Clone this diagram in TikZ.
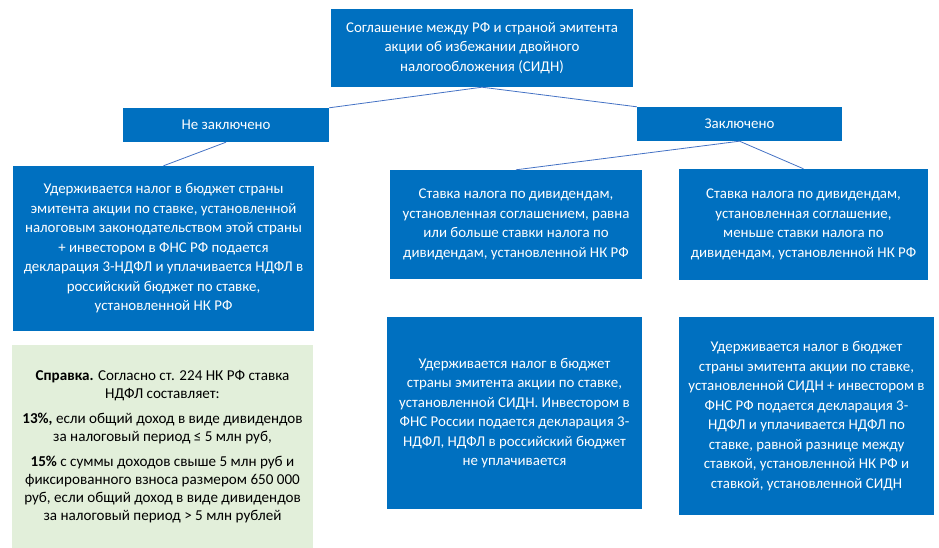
\documentclass[tikz,border=0pt]{standalone}
\usepackage{fontspec}
\setmainfont{Carlito}
\usepackage{tikz}
\usetikzlibrary{positioning,calc}

\definecolor{boxblue}{HTML}{0070C0}
\definecolor{linkblue}{HTML}{4472C4}
\definecolor{notegreen}{HTML}{E2EFDA}

\tikzset{
  bluebox/.style={fill=boxblue, text=white, align=center, inner sep=0pt,
    font=\fontsize{14.9}{19.5}\selectfont},
  notebox/.style={fill=notegreen, text=black, align=center, inner sep=0pt,
    font=\fontsize{15.1}{18}\selectfont},
  link/.style={draw=linkblue, line width=0.8pt}
}

\begin{document}
\begin{tikzpicture}[x=1pt, y=-1pt]
        \useasboundingbox (0,0) rectangle (939,548);

        % Top: agreement
        \node[bluebox, minimum width=302, minimum height=78] (sidn) at (482,48)
          {Соглашение между РФ и страной эмитента\\акции об избежании двойного\\налогообложения (СИДН)};

        % Second level
        \node[bluebox, minimum width=206, minimum height=34] (no) at (226,125) {Не заключено};
        \node[bluebox, minimum width=205, minimum height=34] (yes) at (739.5,124) {Заключено};

        % Left branch
        \node[bluebox, minimum width=301, minimum height=165] (noRes) at (163.5,248.5)
          {Удерживается налог в бюджет страны\\эмитента акции по ставке, установленной\\налоговым законодательством этой страны\\+ инвестором в ФНС РФ подается\\декларация 3-НДФЛ и уплачивается НДФЛ в\\российский бюджет по ставке,\\установленной НК РФ};

        % Reference note
        \node[notebox, minimum width=301, minimum height=204] (note) at (162.5,447)
          {\textbf{Справка.} Согласно ст. 224 НК РФ ставка\\НДФЛ составляет:\\[7pt]
           \textbf{13\%,} если общий доход в виде дивидендов\\за налоговый период ≤ 5 млн руб,\\[7pt]
           \textbf{15\%} с суммы доходов свыше 5 млн руб и\\фиксированного взноса размером 650 000\\руб, если общий доход в виде дивидендов\\за налоговый период > 5 млн рублей};

        % Right branch: rates
        \node[bluebox, minimum width=252, minimum height=109] (eqRate) at (516,224.5)
          {Ставка налога по дивидендам,\\установленная соглашением, равна\\или больше ставки налога по\\дивидендам, установленной НК РФ};
        \node[bluebox, minimum width=249, minimum height=111] (lessRate) at (803.5,224.5)
          {Ставка налога по дивидендам,\\установленная соглашение,\\меньше ставки налога по\\дивидендам, установленной НК РФ};

        % Right branch: results
        \node[bluebox, minimum width=255, minimum height=192] (eqRes) at (514.5,413)
          {Удерживается налог в бюджет\\страны эмитента акции по ставке,\\установленной СИДН. Инвестором в\\ФНС России подается декларация 3-\\НДФЛ, НДФЛ в российский бюджет\\не уплачивается};
        \node[bluebox, minimum width=255, minimum height=198] (lessRes) at (806.5,416)
          {Удерживается налог в бюджет\\страны эмитента акции по ставке,\\установленной СИДН + инвестором в\\ФНС РФ подается декларация 3-\\НДФЛ и уплачивается НДФЛ по\\ставке, равной разнице между\\ставкой, установленной НК РФ и\\ставкой, установленной СИДН};

        % Connectors
        \draw[link] (sidn.south) -- (no.north east);
        \draw[link] (sidn.south) -- (yes.north west);
        \draw[link] (no.south) -- (noRes.north);
        \draw[link] (yes.south) -- (eqRate.north);
        \draw[link] (yes.south) -- (lessRate.north);
    \end{tikzpicture}
\end{document}
